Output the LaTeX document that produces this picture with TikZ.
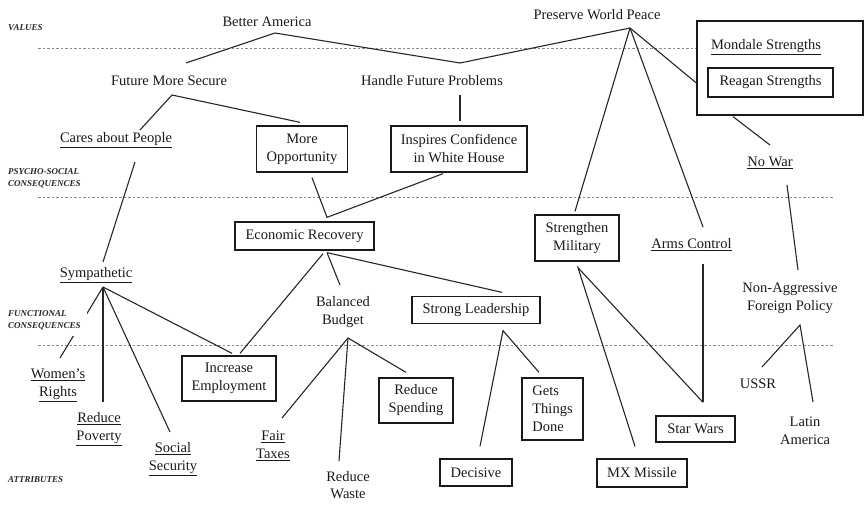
\documentclass[tikz,border=0pt]{standalone}
\usepackage{fontspec}
\setmainfont{Liberation Serif}
\begin{document}
\begin{tikzpicture}[x=1pt,y=-1pt,
  txt/.style={font=\fontsize{14.5}{18}\selectfont, inner sep=1pt, align=center, text=black!90},
  box/.style={txt, draw=black!90, line width=1.3pt, inner sep=0pt},
  link/.style={line width=1.1pt, draw=black!85},
  level/.style={draw=black!45, line width=0.9pt, dash pattern=on 2.5pt off 2pt},
  tier/.style={font=\fontsize{9}{11.5}\selectfont\bfseries\itshape, anchor=west, align=left, inner sep=2pt, text=black!85}]
\useasboundingbox (0,0) rectangle (866,505);

% level separators
\coordinate (l1a) at (38,48);  \coordinate (l1b) at (697,48);
\coordinate (l2a) at (38,197); \coordinate (l2b) at (834,197);
\coordinate (l3a) at (38,345); \coordinate (l3b) at (834,345);
\draw[level] (l1a) -- (l1b);
\draw[level] (l2a) -- (l2b);
\draw[level] (l3a) -- (l3b);

% values
\node[txt] (BA)  at (267,22) {Better America};
\node[txt] (PWP) at (597,15) {Preserve World Peace};
% psycho-social consequences
\node[txt] (FMS) at (169,81) {Future More Secure};
\node[txt] (HFP) at (432,81) {Handle Future Problems};
\node[txt] (CAP) at (116,140) {\underline{Cares about People}};
\node[box, minimum width=91pt, minimum height=46pt] (MO) at (302,149) {More\\Opportunity};
\node[box, minimum width=136pt, minimum height=46pt] (ICW) at (459,149) {Inspires Confidence\\in White House};
\node[draw=black!90, line width=1.3pt, minimum width=166pt, minimum height=94pt, inner sep=0pt] (MSbox) at (780,68) {};
\node[txt] (MS) at (766,47) {\underline{Mondale Strengths}};
\node[box, minimum width=125pt, minimum height=29pt] (RS2) at (770.5,82.5) {Reagan Strengths};
\node[txt] (NW) at (770,163) {\underline{No War}};
% functional consequences
\node[box, minimum width=139pt, minimum height=28pt] (ER) at (304.5,236) {Economic Recovery};
\node[box, minimum width=84pt, minimum height=46pt] (SM) at (577,238) {Strengthen\\Military};
\node[txt] (AC) at (691.5,245) {\underline{Arms Control}};
\node[txt] (SY) at (96,275) {\underline{Sympathetic}};
\node[txt] (BB) at (343,312.5) {Balanced\\Budget};
\node[box, minimum width=128pt, minimum height=27pt] (SL) at (476,310) {Strong Leadership};
\node[txt] (NA) at (790,298.5) {Non-Aggressive\\Foreign Policy};
% attributes
\node[box, minimum width=94pt, minimum height=45pt] (IE) at (229,378.5) {Increase\\Employment};
\node[txt] (WR) at (58,385) {\underline{Women's}\\\underline{Rights}};
\node[txt] (RP) at (99,429.5) {\underline{Reduce}\\\underline{Poverty}};
\node[txt] (SS) at (173,459) {\underline{Social}\\\underline{Security}};
\node[txt] (FT) at (273,446) {\underline{Fair}\\\underline{Taxes}};
\node[txt, font=\fontsize{14.5}{17}\selectfont] (RW) at (348,485) {Reduce\\Waste};
\node[box, minimum width=74pt, minimum height=45pt] (RSp) at (416,400.5) {Reduce\\Spending};
\node[box, minimum width=61pt, minimum height=62pt, align=left] (GT) at (552.5,409) {Gets\\Things\\Done};
\node[box, minimum width=72pt, minimum height=27pt] (DE) at (476,472.5) {Decisive};
\node[box, minimum width=90pt, minimum height=28pt] (MX) at (642,473) {MX Missile};
\node[box, minimum width=79pt, minimum height=26pt] (SW) at (695.5,429) {Star Wars};
\node[txt] (US) at (758,384) {USSR};
\node[txt] (LA) at (805,431) {Latin\\America};

% ladder links
\draw[link] ([shift={(17,-18)}]FMS.center) -- ([shift={(8,11)}]BA.center) -- ([shift={(28,-18)}]HFP.center) -- ([shift={(33,13)}]PWP.center);
\draw[link] ([shift={(33,13)}]PWP.center) -- ([shift={(-2,-3)}]SM.north);
\draw[link] ([shift={(33,13)}]PWP.center) -- ([shift={(11.5,-18)}]AC.center);
\draw[link] ([shift={(33,13)}]PWP.center) -- ([shift={(0,15)}]MSbox.west);
\draw[link] ([shift={(-47,1)}]MSbox.south) -- ([shift={(0,-18)}]NW.center);
\draw[link] ([shift={(17,22)}]NW.center) -- ([shift={(8,-28.5)}]NA.center);
\draw[link] ([shift={(24,-10)}]CAP.center) -- ([shift={(3,14)}]FMS.center) -- ([shift={(-2,-3)}]MO.north);
\draw[link] ([shift={(28,14)}]HFP.center) -- ([shift={(1,-4)}]ICW.north);
\draw[link] ([shift={(19,22)}]CAP.center) -- ([shift={(7,-13)}]SY.center);
\draw[link] ([shift={(10,5)}]MO.south) -- ([shift={(22.5,-4)}]ER.north) -- ([shift={(-16,1)}]ICW.south);
\draw[link] ([shift={(18.5,3)}]ER.south) -- ([shift={(11,-2)}]IE.north);
\draw[link] ([shift={(22.5,2)}]ER.south) -- ([shift={(-3,-27.5)}]BB.center);
\draw[link] ([shift={(22.5,2)}]ER.south) -- ([shift={(26,-3.5)}]SL.north);
\draw[link] ([shift={(7,12)}]SY.center) -- ([shift={(2,-27)}]WR.center);
\draw[link] ([shift={(7,12)}]SY.center) -- ([shift={(4,-27.5)}]RP.center);
\draw[link] ([shift={(7,12)}]SY.center) -- ([shift={(-3,-27)}]SS.center);
\draw[link] ([shift={(7,12)}]SY.center) -- ([shift={(3,-2)}]IE.north);
\draw[link] ([shift={(9,-28)}]FT.center) -- ([shift={(5,25.5)}]BB.center) -- ([shift={(-10,-5)}]RSp.north);
\draw[link] ([shift={(5,25.5)}]BB.center) -- ([shift={(-9,-24)}]RW.center);
\draw[link] ([shift={(4,-12)}]DE.north) -- ([shift={(27,6.5)}]SL.south) -- ([shift={(-13.5,-5)}]GT.north);
\draw[link] ([shift={(-7,-12)}]MX.north) -- ([shift={(1,6)}]SM.south) -- ([shift={(7.5,-13)}]SW.north);
\draw[link] ([shift={(11.5,19)}]AC.center) -- ([shift={(7.5,-13)}]SW.north);
\draw[link] ([shift={(4,-17)}]US.center) -- ([shift={(10,26.5)}]NA.center) -- ([shift={(8,-29)}]LA.center);

% level names
\node[tier] (tv) at (6,28) {VALUES};
\node[tier] (tp) at (6,178) {PSYCHO-SOCIAL\\CONSEQUENCES};
\node[tier, fill=white, inner xsep=6pt, minimum height=32pt] (tf) at (2,320) {FUNCTIONAL\\CONSEQUENCES};
\node[tier] (ta) at (6,480) {ATTRIBUTES};
\end{tikzpicture}
\end{document}
